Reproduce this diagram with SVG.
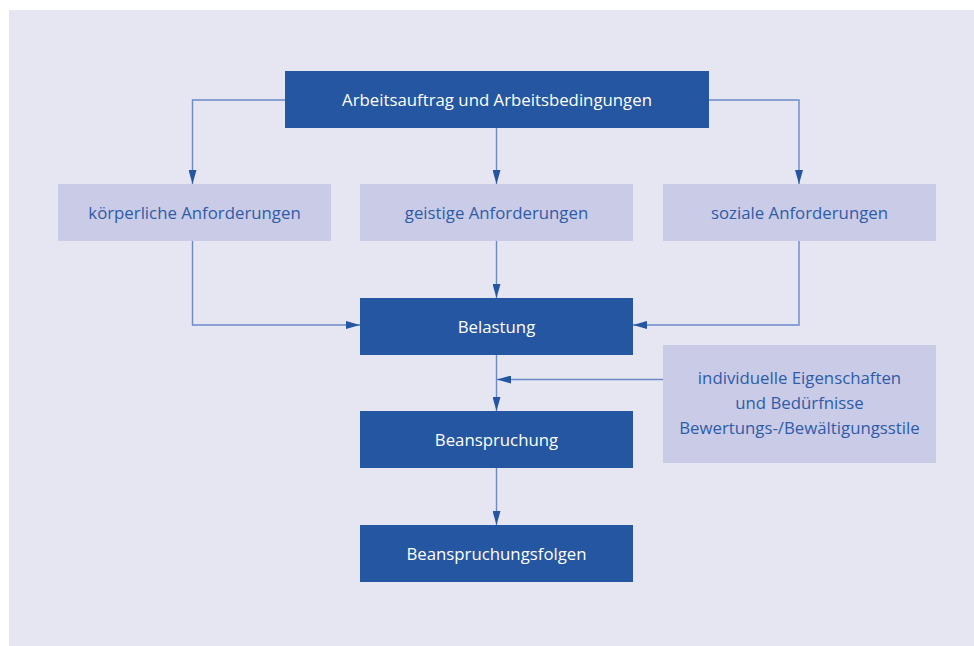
<svg xmlns="http://www.w3.org/2000/svg" width="974" height="646" viewBox="0 0 974 646">
<style>
.dark{fill:#2456A2}
.light{fill:#CACBE6}
.tw{fill:#FFFFFF;font-family:"Open Sans","Noto Sans",sans-serif;font-size:16.8px;text-anchor:middle}
.tb{fill:#2E5CA8;font-family:"Open Sans","Noto Sans",sans-serif;font-size:16.8px;text-anchor:middle}
.con{fill:none;stroke:#6A8BC8;stroke-width:1.4}
</style>
<defs>
<marker id="arr" viewBox="0 0 14 8" refX="14" refY="4" markerWidth="14" markerHeight="8" markerUnits="userSpaceOnUse" orient="auto">
<path d="M0,0 L14,4 L0,8 Z" fill="#2456A2"/>
</marker>
</defs>
<rect x="0" y="0" width="974" height="646" fill="#FFFFFF"/>
<rect x="9" y="10" width="965" height="636" fill="#E6E5F2"/>
<g id="connectors">
<path class="con" d="M285,100 H192.5 V184" marker-end="url(#arr)"/>
<path class="con" d="M496.5,128 V184" marker-end="url(#arr)"/>
<path class="con" d="M709,100 H799 V184" marker-end="url(#arr)"/>
<path class="con" d="M192.5,241 V325 H360" marker-end="url(#arr)"/>
<path class="con" d="M496.5,241 V298" marker-end="url(#arr)"/>
<path class="con" d="M799,241 V325 H633" marker-end="url(#arr)"/>
<path class="con" d="M496.5,355 V411" marker-end="url(#arr)"/>
<path class="con" d="M663,379.5 H497" marker-end="url(#arr)"/>
<path class="con" d="M496.5,468 V525" marker-end="url(#arr)"/>
</g>
<g id="arbeitsauftrag">
<rect class="dark" x="285" y="71" width="424" height="57"/>
<text class="tw" x="497" y="105.5">Arbeitsauftrag und Arbeitsbedingungen</text>
</g>
<g id="koerperlich">
<rect class="light" x="58" y="184" width="273" height="57"/>
<text class="tb" x="194.5" y="218.5">körperliche Anforderungen</text>
</g>
<g id="geistig">
<rect class="light" x="360" y="184" width="273" height="57"/>
<text class="tb" x="496.5" y="218.5">geistige Anforderungen</text>
</g>
<g id="sozial">
<rect class="light" x="663" y="184" width="273" height="57"/>
<text class="tb" x="799.5" y="218.5">soziale Anforderungen</text>
</g>
<g id="belastung">
<rect class="dark" x="360" y="298" width="273" height="57"/>
<text class="tw" x="496.5" y="332.5">Belastung</text>
</g>
<g id="individuell">
<rect class="light" x="663" y="345" width="273" height="118"/>
<text class="tb" x="799.5" y="384">individuelle Eigenschaften</text>
<text class="tb" x="799.5" y="409">und Bedürfnisse</text>
<text class="tb" x="799.5" y="434">Bewertungs-/Bewältigungsstile</text>
</g>
<g id="beanspruchung">
<rect class="dark" x="360" y="411" width="273" height="57"/>
<text class="tw" x="496.5" y="445.5">Beanspruchung</text>
</g>
<g id="folgen">
<rect class="dark" x="360" y="525" width="273" height="57"/>
<text class="tw" x="496.5" y="559.5">Beanspruchungsfolgen</text>
</g>
</svg>
